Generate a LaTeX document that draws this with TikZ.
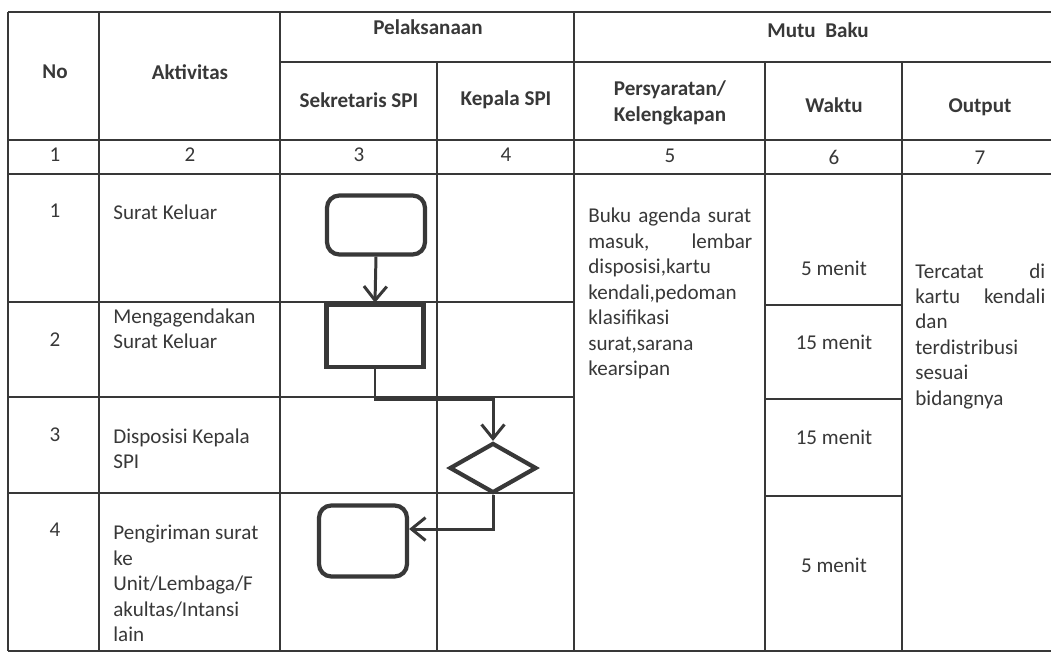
\documentclass[tikz,border=0pt]{standalone}
\usepackage{fontspec}
\setmainfont{Carlito}
\usetikzlibrary{shapes.geometric,arrows.meta}
\definecolor{tinta}{gray}{0.22}
\tikzstyle{garis} = [draw=tinta, line width=0.9pt]
\tikzstyle{judul} = [font=\bfseries, text=tinta, align=center]
\tikzstyle{isi} = [text=tinta, align=left, anchor=north west, inner sep=0pt]
\tikzstyle{angka} = [text=tinta, inner sep=0pt]
\tikzstyle{mulai} = [draw=tinta, line width=2.4pt, rectangle, rounded corners=7pt, inner sep=0pt]
\tikzstyle{proses} = [draw=tinta, line width=2.6pt, rectangle, inner sep=0pt]
\tikzstyle{keputusan} = [draw=tinta, line width=2.4pt, diamond, inner sep=0pt, aspect=1.74]
\tikzstyle{panah} = [draw=tinta, line width=1.7pt, -{Straight Barb[length=8pt, width=13pt, line width=1.7pt]}]

\begin{document}
\fontsize{12pt}{14.5pt}\selectfont
\begin{tikzpicture}[x=0.02cm, y=-0.02cm]
	\useasboundingbox[fill=white] (0,0) rectangle (1051,657);
	% tabel
	\draw[garis] (8,12) -- (1051,12);
	\draw[garis] (280,62) -- (1051,62);
	\draw[garis] (8,140) -- (1051,140);
	\draw[garis] (8,174) -- (1051,174);
	\draw[garis] (8,651) -- (1051,651);
	\foreach \y in {302,397,493} \draw[garis] (8,\y) -- (574,\y);
	\foreach \y in {305,399,496} \draw[garis] (765,\y) -- (902,\y);
	\foreach \x in {8,99,280,574} \draw[garis] (\x,12) -- (\x,651);
	\foreach \x in {437,765,902} \draw[garis] (\x,62) -- (\x,651);
	% kepala tabel
	\node[judul] (hNo) at (55,72) {No};
	\node[judul] (hAktivitas) at (190,72) {Aktivitas};
	\node[judul] (hPelaksanaan) at (428,27) {Pelaksanaan};
	\node[judul] (hSekretaris) at (359,100) {Sekretaris SPI};
	\node[judul] (hKepala) at (506,100) {Kepala SPI};
	\node[judul] (hMutu) at (818,30) {Mutu\ \ Baku};
	\node[judul, align=left] (hSyarat) at (670,103) {Persyaratan/\\Kelengkapan};
	\node[judul] (hWaktu) at (834,105) {Waktu};
	\node[judul] (hOutput) at (980,107) {Output};
	\node[angka] (k1) at (55,155) {1};
	\node[angka] (k2) at (190,155) {2};
	\node[angka] (k3) at (359,155) {3};
	\node[angka] (k4) at (506,155) {4};
	\node[angka] (k5) at (670,156) {5};
	\node[angka] (k6) at (834,157) {6};
	\node[angka] (k7) at (980,158) {7};
	% baris
	\node[angka] (no1) at (55,211) {1};
	\node[angka] (no2) at (55,340) {2};
	\node[angka] (no3) at (55,435) {3};
	\node[angka] (no4) at (55,530) {4};
	\node[isi] (akt1) at (113,204) {Surat Keluar};
	\node[isi] (akt2) at (113,308) {Mengagendakan\\Surat Keluar};
	\node[isi] (akt3) at (113,428) {Disposisi Kepala\\SPI};
	\node[isi] (akt4) at (113,525) {Pengiriman surat\\ke\\Unit/Lembaga/F\\akultas/Intansi\\lain};
	\node[isi, text width=3.28cm] (syarat) at (588,208) {Buku agenda surat\\masuk,\hfill lembar\\disposisi,kartu\\kendali,pedoman\\klasifikasi\\surat,sarana\\kearsipan};
	\node[angka] (w1) at (834,268) {5 menit};
	\node[angka] (w2) at (834,342) {15 menit};
	\node[angka] (w3) at (834,437) {15 menit};
	\node[angka] (w4) at (834,565) {5 menit};
	\node[isi, text width=2.6cm] (output) at (915,263) {Tercatat\hfill di\\kartu\hfill kendali\\dan\\terdistribusi\\sesuai\\bidangnya};
	% bagan alir
	\node[mulai, minimum width=1.96cm, minimum height=1.18cm] (awal) at (376,225) {};
	\node[proses, minimum width=1.94cm, minimum height=1.24cm] (agenda) at (375,336) {};
	\node[keputusan, minimum width=1.74cm, minimum height=1cm] (disposisi) at (493,468) {};
	\node[mulai, minimum width=1.76cm, minimum height=1.42cm] (kirim) at (363,541) {};
	\draw[panah] (awal.south) -- (agenda.north);
	\draw[panah] (agenda.south) -- ++(0,30) -| (disposisi.north);
	\draw[panah] (disposisi.south) |- ([yshift=0.24cm]kirim.east);
\end{tikzpicture}
\end{document}
